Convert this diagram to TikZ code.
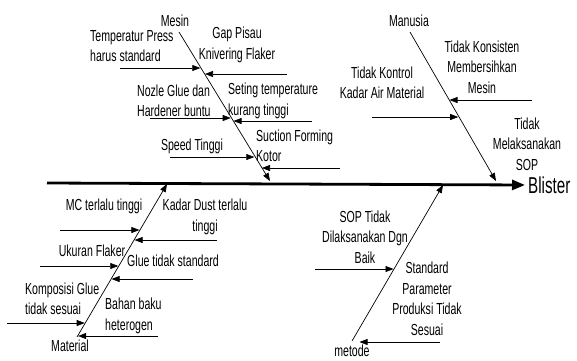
\documentclass[tikz,border=0pt]{standalone}
\usepackage{fontspec}
\setmainfont{Liberation Sans}[FakeStretch=0.66]
\usetikzlibrary{positioning, arrows.meta}
\tikzset{every node/.append style={inner sep=0pt}}

\begin{document}
\begin{tikzpicture}[x=1pt, y=-1pt, font=\fontsize{16}{20.5}\selectfont, >={Triangle[length=8pt,width=6pt]},
  lbl/.style={align=center},
  lbll/.style={align=left, anchor=west},
  bone/.style={->, line width=0.7pt},
  cause/.style={->, line width=0.6pt, shorten >=0.5pt},
  spine/.style={-{Triangle[length=13pt,width=10pt]}, line width=2.8pt, shorten >=3pt}]
  \useasboundingbox (0,0) rectangle (577,360);
  % spine
  \coordinate (head0) at (47,183);
  \node[anchor=west, font=\fontsize{23}{23}\selectfont] (blister) at (528,185) {Blister};
  \draw[spine] (head0) -- (blister.west);
  % Mesin
  \node (mesin) at (175,21) {Mesin};
  \coordinate (mesin0) at (179,32);
  \coordinate (mesin1) at (270,181);
  \draw[bone] (mesin0) -- (mesin1);
  \node[lbll] (tempP) at (90,46) {Temperatur Press\\harus standard};
  \node[lbl] (gapP) at (237,45) {Gap Pisau\\Knivering Flaker};
  \node[lbll] (nozle) at (137,101) {Nozle Glue dan\\Hardener buntu};
  \node[lbll] (seting) at (228,101) {Seting temperature\\kurang tinggi};
  \node[lbl] (speed) at (192,146) {Speed Tinggi};
  \node[lbll] (suction) at (256,146) {Suction Forming\\Kotor};
  \coordinate (tempPs) at (120,68);   \coordinate (tempPt) at (200.8,68);
  \coordinate (gapPs) at (287,74);    \coordinate (gapPt) at (204.5,74);
  \coordinate (nozles) at (150,118);  \coordinate (nozlet) at (231.2,118);
  \coordinate (setings) at (312,121); \coordinate (setingt) at (233.0,121);
  \coordinate (speeds) at (170,157);  \coordinate (speedt) at (254.8,157);
  \coordinate (suctions) at (340,168); \coordinate (suctiont) at (261.5,168);
  \draw[cause] (tempPs) -- (tempPt);
  \draw[cause] (gapPs) -- (gapPt);
  \draw[cause] (nozles) -- (nozlet);
  \draw[cause] (setings) -- (setingt);
  \draw[cause] (speeds) -- (speedt);
  \draw[cause] (suctions) -- (suctiont);
  % Manusia
  \node (manusia) at (409,21) {Manusia};
  \coordinate (manusia0) at (410,32);
  \coordinate (manusia1) at (496,181);
  \draw[bone] (manusia0) -- (manusia1);
  \node[lbl] (konsisten) at (482,67) {Tidak Konsisten\\Membersihkan\\Mesin};
  \node[lbl] (kontrol) at (382,83) {Tidak Kontrol\\Kadar Air Material};
  \node[lbl] (melaksana) at (527,144) {Tidak\\Melaksanakan\\SOP};
  \coordinate (konsistens) at (532,100); \coordinate (konsistent) at (449.0,100);
  \coordinate (kontrols) at (372,117);   \coordinate (kontrolt) at (458.7,117);
  \draw[cause] (konsistens) -- (konsistent);
  \draw[cause] (kontrols) -- (kontrolt);
  % Material
  \node (material) at (70,346) {Material};
  \coordinate (material0) at (77,337);
  \coordinate (material1) at (167,184);
  \draw[bone] (material0) -- (material1);
  \node[lbl] (mc) at (104,206) {MC terlalu tinggi};
  \node[lbl] (kadarD) at (205,217) {Kadar Dust terlalu\\tinggi};
  \node[lbl] (ukuran) at (92,251) {Ukuran Flaker};
  \node[lbl] (glueT) at (173,261) {Glue tidak standard};
  \node[lbll] (komposisi) at (25,299) {Komposisi Glue\\tidak sesuai};
  \node[lbll] (bahan) at (105,316) {Bahan baku\\heterogen};
  \coordinate (mcs) at (60,230);         \coordinate (mct) at (139.9,230);
  \coordinate (kadarDs) at (217,240);    \coordinate (kadarDt) at (134.1,240);
  \coordinate (ukurans) at (40,266);     \coordinate (ukurant) at (118.8,266);
  \coordinate (glueTs) at (193,279);     \coordinate (glueTt) at (111.1,279);
  \coordinate (komposisis) at (7,323);   \coordinate (komposisit) at (85.2,323);
  \coordinate (bahans) at (158,336);     \coordinate (bahant) at (77.6,336);
  \draw[cause] (mcs) -- (mct);
  \draw[cause] (kadarDs) -- (kadarDt);
  \draw[cause] (ukurans) -- (ukurant);
  \draw[cause] (glueTs) -- (glueTt);
  \draw[cause] (komposisis) -- (komposisit);
  \draw[cause] (bahans) -- (bahant);
  % metode
  \node (metode) at (352,351) {metode};
  \coordinate (metode0) at (352,341);
  \coordinate (metode1) at (443,185);
  \draw[bone] (metode0) -- (metode1);
  \node[lbl] (sopT) at (365,237) {SOP Tidak\\Dilaksanakan Dgn\\Baik};
  \node[lbl] (standar) at (427,299) {Standard\\Parameter\\Produksi Tidak\\Sesuai};
  \coordinate (sopTs) at (315,269);      \coordinate (sopTt) at (394.0,269);
  \coordinate (standars) at (440,342);   \coordinate (standart) at (359,342);
  \draw[cause] (sopTs) -- (sopTt);
  \draw[cause] (standars) -- (standart);
\end{tikzpicture}
\end{document}
